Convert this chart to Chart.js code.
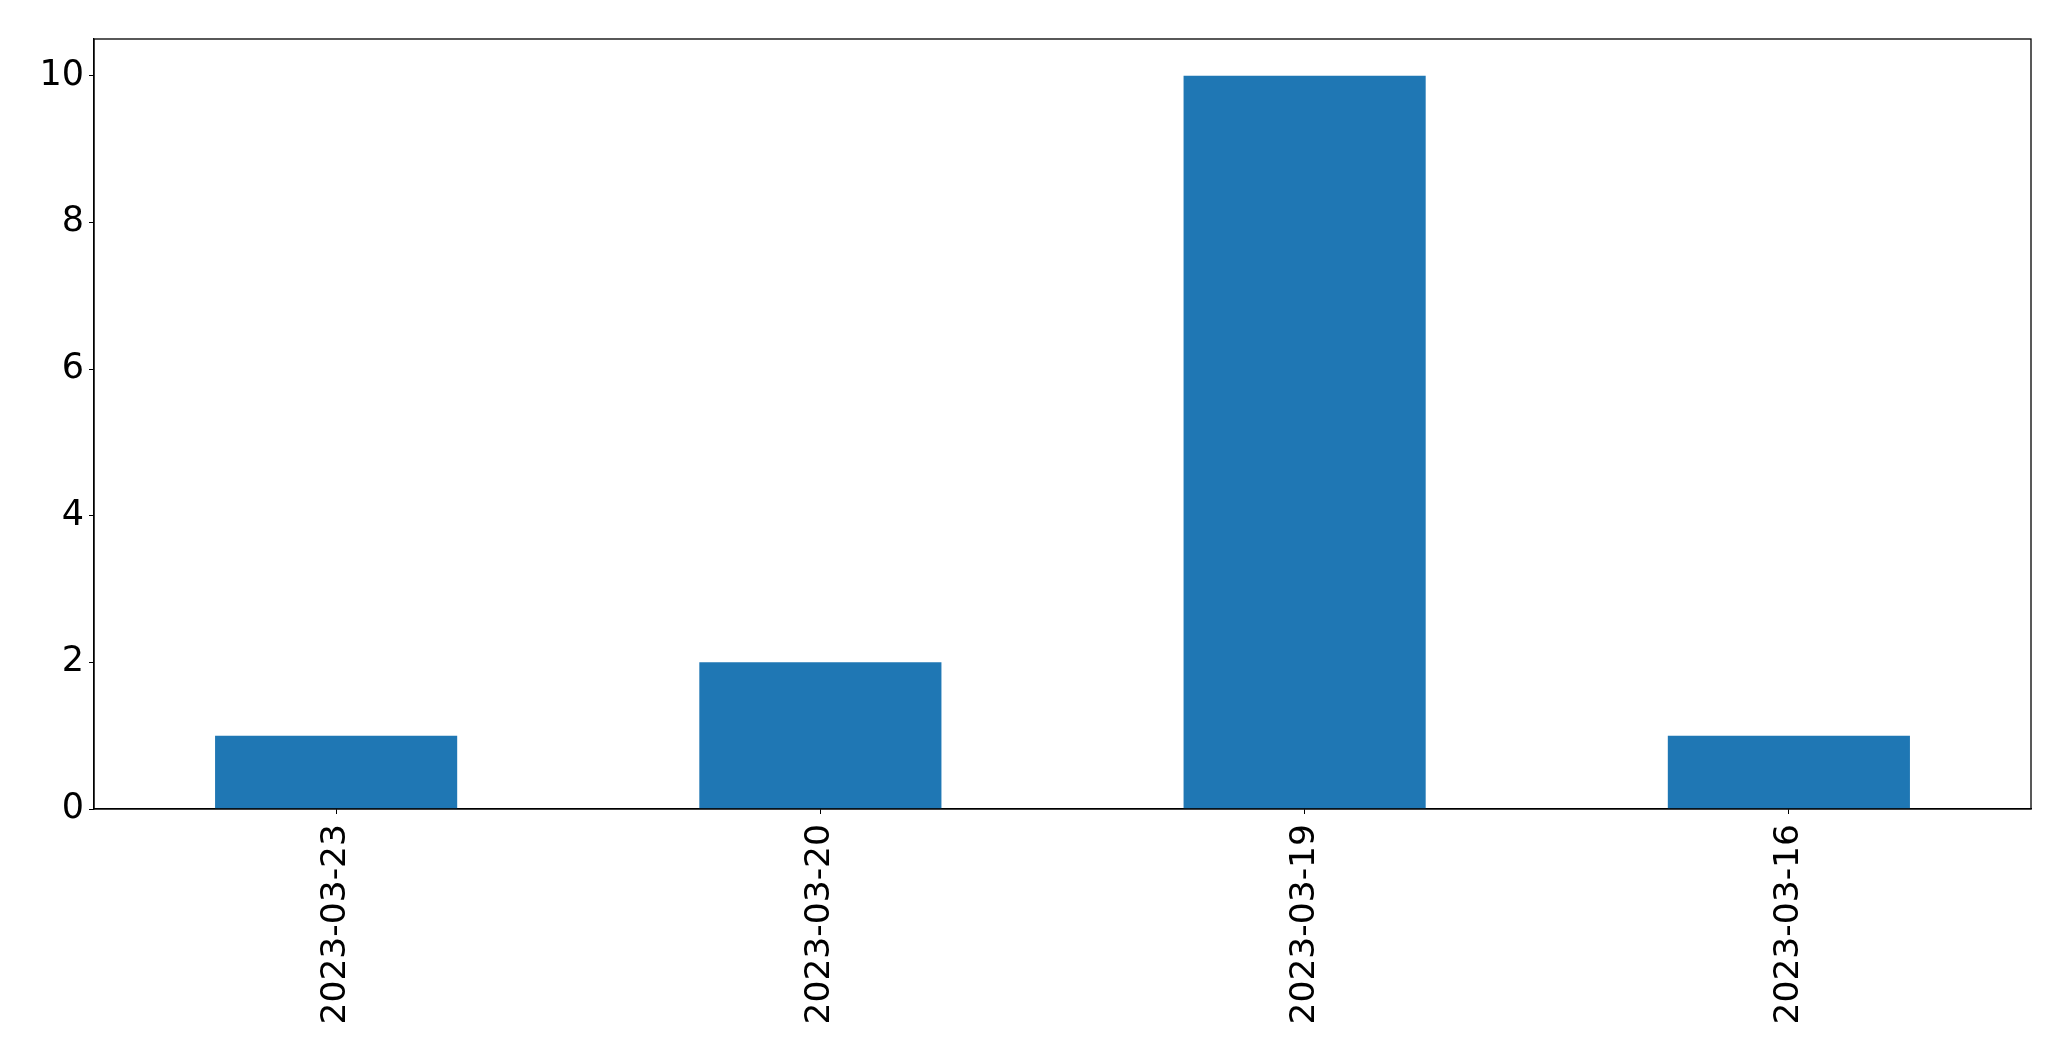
<!DOCTYPE html>
<html>
<head>
<meta charset="utf-8">
<script src="https://cdn.jsdelivr.net/npm/chart.js@4/dist/chart.umd.min.js"></script>
<style>
html,body{margin:0;padding:0;background:#fff;}
#wrap{width:2071px;height:1061px;position:relative;}
</style>
</head>
<body>
<div id="wrap"><canvas id="c" width="2071" height="1061"></canvas></div>
<script>
const categories = ['2023-03-23', '2023-03-20', '2023-03-19', '2023-03-16'];
const counts = [1, 2, 10, 1];
const yTicks = [0, 2, 4, 6, 8, 10];

const frame = {
  id: 'frame',
  afterDraw(chart) {
    const a = chart.chartArea, ctx = chart.ctx;
    ctx.save();
    ctx.strokeStyle = '#000';
    ctx.lineWidth = 1.3;
    ctx.strokeRect(a.left, a.top, a.right - a.left, a.bottom - a.top);
    ctx.restore();
  }
};

new Chart(document.getElementById('c'), {
  type: 'bar',
  data: {
    labels: categories,
    datasets: [{
      data: counts,
      backgroundColor: '#1f77b4',
      borderWidth: 0,
      categoryPercentage: 1.0,
      barPercentage: 0.5
    }]
  },
  options: {
    responsive: false,
    animation: false,
    devicePixelRatio: 1,
    layout: { padding: { top: 39, right: 40, left: 0, bottom: 0 } },
    plugins: { legend: { display: false }, tooltip: { enabled: false } },
    scales: {
      x: {
        offset: true,
        grid: { display: true, drawOnChartArea: false, drawTicks: true, tickLength: 5, tickColor: '#000', offset: false, color: '#000' },
        border: { display: true, color: '#000', width: 1.3 },
        ticks: {
          color: '#000',
          font: { family: 'DejaVu Sans', size: 34.5 },
          maxRotation: 90, minRotation: 90,
          padding: 10,
          autoSkip: false
        },
        afterFit(scale) { scale.height = 1061 - 809; }
      },
      y: {
        min: 0, max: 10.5,
        grid: { display: true, drawOnChartArea: false, drawTicks: true, tickLength: 5, tickColor: '#000', color: '#000' },
        border: { display: true, color: '#000', width: 1.3 },
        afterBuildTicks(scale) { scale.ticks = yTicks.map(v => ({ value: v })); },
        ticks: {
          color: '#000',
          font: { family: 'DejaVu Sans', size: 35 },
          padding: 5
        },
        afterFit(scale) { scale.width = 94; }
      }
    }
  },
  plugins: [frame]
});
</script>
</body>
</html>
